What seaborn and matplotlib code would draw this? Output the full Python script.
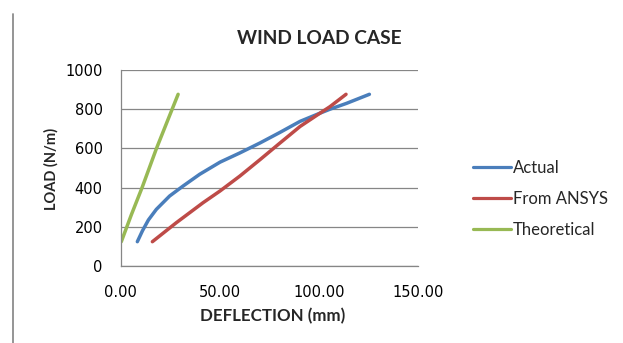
import matplotlib
matplotlib.use("Agg")
import matplotlib.pyplot as plt
import seaborn as sns
import pandas as pd
from matplotlib.lines import Line2D

actual_x = [8.4, 11.0, 14.0, 18.0, 24.7, 31.5, 39.9, 50.2, 60.2, 70.4, 80.5, 90.6, 100.7, 105.7, 114.1, 125.6]
actual_y = [124, 180, 235, 289, 357, 408, 468, 530, 577, 628, 682, 738, 780, 800, 830, 876]

ansys_x = [16.0, 28.1, 41.6, 50.2, 60.2, 70.4, 80.5, 90.6, 100.7, 105.7, 113.8]
ansys_y = [124, 221, 323, 383, 459, 543, 628, 712, 780, 813, 876]

theo_x = [0.3, 5.4, 10.8, 18.0, 24.0, 29.0]
theo_y = [124, 262, 400, 598, 750, 876]

series_names = ["Actual", "From ANSYS", "Theoretical"]
colors = ["#4A7EBB", "#BE4B48", "#98B954"]

x_ticks = [0, 50, 100, 150]
y_ticks = [0, 200, 400, 600, 800, 1000]

df = pd.concat([
    pd.DataFrame({"x": actual_x, "y": actual_y, "s": series_names[0]}),
    pd.DataFrame({"x": ansys_x, "y": ansys_y, "s": series_names[1]}),
    pd.DataFrame({"x": theo_x, "y": theo_y, "s": series_names[2]}),
])

sns.set_style("white")
plt.rcParams["font.family"] = ["Lato", "DejaVu Sans"]

W, H = 623, 343
fig = plt.figure(figsize=(6.23, 3.43), dpi=100)
ax = fig.add_axes([120.7 / W, 1 - 266 / H, 297 / W, 196 / H])

sns.lineplot(data=df, x="x", y="y", hue="s", palette=colors, sort=False,
             estimator=None, linewidth=2.5, ax=ax, legend=False)
for ln in ax.get_lines():
    ln.set_solid_capstyle("round")
    ln.set_solid_joinstyle("round")

ax.set_xlim(0, 150)
ax.set_ylim(0, 1000)
ax.set_xticks(x_ticks)
ax.set_xticklabels([f"{v:.2f}" for v in x_ticks], family="DejaVu Sans", fontsize=10.5)
ax.set_yticks(y_ticks)
ax.set_yticklabels([str(v) for v in y_ticks], family="DejaVu Sans", fontsize=10.5)
ax.tick_params(axis="both", length=0, colors="#000000")
ax.tick_params(axis="y", pad=13)
ax.tick_params(axis="x", pad=14)
ax.grid(axis="y", color="#868686", linewidth=0.9)
ax.set_axisbelow(True)
for side in ["top", "right"]:
    ax.spines[side].set_visible(False)
for side in ["left", "bottom"]:
    ax.spines[side].set_color("#868686")
    ax.spines[side].set_linewidth(0.9)

ax.set_xlabel("DEFLECTION (mm)", fontsize=12.2, fontweight="bold", va="center")
ax.xaxis.set_label_coords((272.5 - 120.7) / 297, (266 - 316) / 196)
ax.set_ylabel("LOAD (N/m)", fontsize=10.5, fontweight="bold", va="center")
ax.yaxis.set_label_coords((51 - 120.7) / 297, (266 - 168.5) / 196)

fig.text(319.5 / W, 1 - 38.5 / H, "WIND LOAD CASE", ha="center", va="center",
         fontsize=13.8, fontweight="bold")

handles = [Line2D([0], [0], color=c, linewidth=2.3) for c in colors]
fig.legend(handles, series_names, loc="upper left",
           bbox_to_anchor=(473 / W, 1 - 160 / H),
           frameon=False, fontsize=12, handlelength=2.28, handletextpad=0.12,
           labelspacing=0.9, borderpad=0, borderaxespad=0)

fig.add_artist(Line2D([13.5 / W, 13.5 / W], [0.0, 1 - 14 / H], color="#8c8c8c",
                      linewidth=1.3, transform=fig.transFigure))

fig.savefig("out.png", dpi=100)
